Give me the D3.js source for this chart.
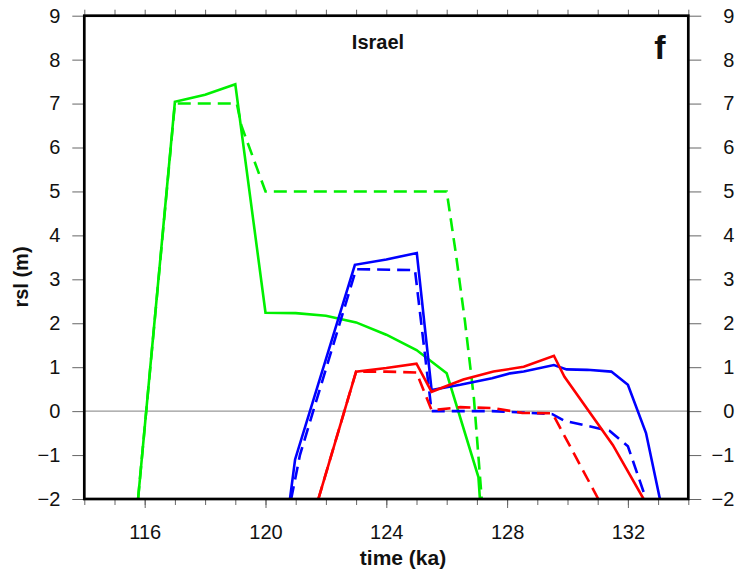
<!DOCTYPE html>
<html>
<head>
<meta charset="utf-8">
<script src="https://cdn.jsdelivr.net/npm/d3@7"></script>
<style>
  body { margin: 0; background: #fff; }
  svg text { font-family: "Liberation Sans", Arial, Helvetica, sans-serif; fill: #111; }
</style>
</head>
<body>
<div id="chart"></div>
<script>
//Datos (tiempo en ka, rsl en m)
const greenSolid = [[115.78,-2],[117,7.04],[118,7.2],[119,7.44],[120,2.24],[121,2.23],[122,2.17],[123,2.02],[124,1.74],[125,1.39],[126,0.86],[127.05,-1.5],[127.1,-2]];
const greenDashed = [[115.78,-2],[117,7.0],[119.05,7.0],[119.2,6.5],[120,5.0],[126,5.0],[126.3,3.6],[126.6,2.07],[126.9,0.3],[127.16,-2]];
const blueSolid = [[120.81,-2],[120.98,-1.1],[122.96,3.33],[124,3.45],[125.01,3.6],[125.5,0.48],[126.45,0.6],[127.5,0.75],[128.1,0.86],[128.55,0.9],[129.55,1.05],[129.97,0.95],[130.65,0.94],[131.45,0.9],[132.0,0.6],[132.6,-0.5],[133.06,-2]];
const blueDashed = [[120.85,-2],[121.14,-1],[123,3.23],[124.95,3.21],[125.5,0],[126.5,0],[127.5,0],[128.5,-0.03],[129.5,-0.07],[129.9,-0.22],[131.4,-0.45],[132.0,-0.8],[132.6,-2]];
const redSolid = [[121.75,-2],[123,0.9],[124,0.98],[125,1.08],[125.5,0.44],[126.55,0.72],[127.55,0.9],[128.55,1.01],[129.55,1.26],[129.9,0.78],[131.5,-0.77],[132.52,-2]];
const redDashed = [[121.75,-2],[123,0.9],[124,0.9],[125,0.88],[125.5,0.02],[126.45,0.09],[127.55,0.07],[128.5,-0.04],[129.5,-0.05],[131.02,-2]];

const series = [
  {data: greenSolid, color: '#00f000', dash: null},
  {data: greenDashed, color: '#00f000', dash: '13,7'},
  {data: blueSolid, color: '#0000ff', dash: null},
  {data: blueDashed, color: '#0000ff', dash: '13,7'},
  {data: redSolid, color: '#ff0000', dash: null},
  {data: redDashed, color: '#ff0000', dash: '13,7'}
];

const xDomain = [114, 134];
const yDomain = [-2, 9];
const xMajorTicks = [116, 120, 124, 128, 132];
const xMinorTicks = d3.range(114, 135, 1);
const yTicks = d3.range(-2, 10, 1);

//Dimensiones
let margin = {top: 15.7, right: 59.7, bottom: 74, left: 84.3},
    W = 748, H = 573,
    width = W - margin.left - margin.right,
    height = H - margin.top - margin.bottom;

let svg = d3.select('#chart').append('svg')
    .attr('width', W)
    .attr('height', H);

let g = svg.append('g')
    .attr('transform', 'translate(' + margin.left + ',' + margin.top + ')');

let x = d3.scaleLinear().domain(xDomain).range([0, width]);
let y = d3.scaleLinear().domain(yDomain).range([height, 0]);

//Ejes
function styleAxis(sel) {
    sel.select('.domain').remove();
    sel.selectAll('.tick line').attr('stroke', '#666').attr('stroke-width', 1);
    sel.selectAll('.tick text').style('font-size', '20px').attr('fill', '#111');
}

g.append('g')
    .call(d3.axisLeft(y).tickValues(yTicks).tickSize(12).tickPadding(12))
    .call(styleAxis);

g.append('g')
    .attr('transform', 'translate(' + width + ',0)')
    .call(d3.axisRight(y).tickValues(yTicks).tickSize(13).tickPadding(33))
    .call(styleAxis)
    .call(function(a) { a.selectAll('.tick text').attr('text-anchor', 'end'); });

g.append('g')
    .attr('transform', 'translate(0,' + height + ')')
    .call(d3.axisBottom(x).tickValues(xMinorTicks).tickSize(6).tickFormat(''))
    .call(styleAxis);

g.append('g')
    .attr('transform', 'translate(0,' + height + ')')
    .call(d3.axisBottom(x).tickValues(xMajorTicks).tickSize(9).tickPadding(17).tickFormat(d3.format('d')))
    .call(styleAxis);

g.append('g')
    .call(d3.axisTop(x).tickValues(xMinorTicks).tickSize(6).tickFormat(''))
    .call(styleAxis);

//Línea del cero
g.append('line')
    .attr('x1', 0).attr('x2', width)
    .attr('y1', y(0)).attr('y2', y(0))
    .attr('stroke', '#999').attr('stroke-width', 1.2);

//Recorte
g.append('clipPath').attr('id', 'clip')
    .append('rect').attr('width', width).attr('height', height);

let line = d3.line()
    .x(function(d) { return x(d[0]); })
    .y(function(d) { return y(d[1]); });

g.append('g').attr('clip-path', 'url(#clip)')
    .selectAll('path')
    .data(series)
    .enter()
    .append('path')
    .attr('d', function(d) { return line(d.data); })
    .attr('fill', 'none')
    .attr('stroke', function(d) { return d.color; })
    .attr('stroke-width', 2.6)
    .attr('stroke-linejoin', 'miter')
    .attr('stroke-dasharray', function(d) { return d.dash; });

//Marco
g.append('rect')
    .attr('width', width).attr('height', height)
    .attr('fill', 'none').attr('stroke', '#000').attr('stroke-width', 2.7);

//Textos
g.append('text')
    .attr('x', 378 - margin.left).attr('y', 49 - margin.top)
    .attr('text-anchor', 'middle')
    .style('font-size', '20px').style('font-weight', 'bold')
    .text('Israel');

g.append('text')
    .attr('x', 660 - margin.left).attr('y', 59 - margin.top)
    .attr('text-anchor', 'middle')
    .style('font-size', '34px').style('font-weight', 'bold')
    .text('f');

svg.append('text')
    .attr('x', 403).attr('y', 565)
    .attr('text-anchor', 'middle')
    .style('font-size', '21px').style('font-weight', 'bold')
    .text('time (ka)');

svg.append('text')
    .attr('transform', 'translate(28,277) rotate(-90)')
    .attr('text-anchor', 'middle')
    .style('font-size', '20px').style('font-weight', 'bold')
    .text('rsl (m)');
</script>
</body>
</html>
